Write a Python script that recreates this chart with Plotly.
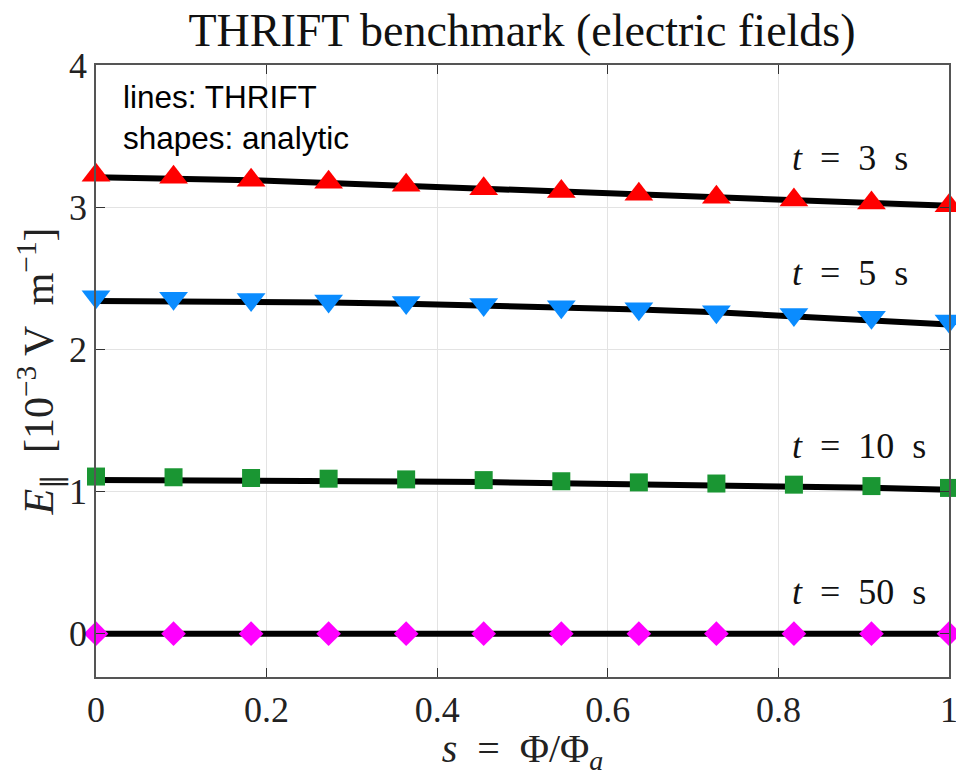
import plotly.graph_objects as go

# Normalised flux coordinate s = Phi/Phi_a (12 radial points)
s = [0.0, 0.0909, 0.1818, 0.2727, 0.3636, 0.4545, 0.5455, 0.6364, 0.7273, 0.8182, 0.9091, 1.0]

# THRIFT solution, E_parallel [1e-3 V/m]
thrift_t3 = [3.21, 3.205, 3.19, 3.17, 3.15, 3.13, 3.11, 3.09, 3.07, 3.05, 3.03, 3.01]
thrift_t5 = [2.34, 2.34, 2.335, 2.33, 2.32, 2.31, 2.295, 2.28, 2.26, 2.235, 2.205, 2.175]
thrift_t10 = [1.08, 1.08, 1.077, 1.074, 1.07, 1.066, 1.06, 1.054, 1.047, 1.038, 1.026, 1.012]
thrift_t50 = [0.0] * 12

# Analytic solution at the same points
analytic_t3 = [3.225, 3.21, 3.19, 3.175, 3.155, 3.13, 3.11, 3.09, 3.07, 3.05, 3.03, 3.01]
analytic_t5 = [2.37, 2.36, 2.35, 2.34, 2.33, 2.315, 2.30, 2.285, 2.265, 2.245, 2.225, 2.2]
analytic_t10 = [1.105, 1.10, 1.095, 1.09, 1.085, 1.08, 1.072, 1.064, 1.056, 1.048, 1.038, 1.025]
analytic_t50 = [0.0] * 12

time_labels = ["<i>t</i>&nbsp; = &nbsp;3&nbsp; s", "<i>t</i>&nbsp; = &nbsp;5&nbsp; s",
               "<i>t</i>&nbsp; = &nbsp;10&nbsp; s", "<i>t</i>&nbsp; = &nbsp;50&nbsp; s"]
label_x = [0.814, 0.814, 0.814, 0.814]
label_y = [3.345, 2.54, 1.32, 0.29]

x_ticks = [0, 0.2, 0.4, 0.6, 0.8, 1]
x_tick_text = ["0", "0.2", "0.4", "0.6", "0.8", "1"]
y_ticks = [0, 1, 2, 3, 4]
y_tick_text = ["0", "1", "2", "3", "4"]

serif = "Liberation Serif"

fig = go.Figure()

for ys in [thrift_t3, thrift_t5, thrift_t10, thrift_t50]:
    fig.add_trace(go.Scatter(x=s, y=ys, mode="lines",
                             line=dict(color="black", width=6),
                             showlegend=False, hoverinfo="skip"))

markers = [
    (analytic_t3, "triangle-up", "#FF0000", 25),
    (analytic_t5, "triangle-down", "#0A8CFF", 25),
    (analytic_t10, "square", "#1A9633", 18),
    (analytic_t50, "diamond", "#FF00FF", 19),
]
for ys, sym, col, size in markers:
    fig.add_trace(go.Scatter(x=s, y=ys, mode="markers",
                             marker=dict(symbol=sym, color=col, size=size,
                                         line=dict(width=0)),
                             cliponaxis=False, showlegend=False))

for txt, lx, ly in zip(time_labels, label_x, label_y):
    fig.add_annotation(x=lx, y=ly, text=txt, showarrow=False,
                       xanchor="left", yanchor="middle",
                       font=dict(family=serif, size=36, color="#111"))

fig.add_annotation(x=0.029, y=0.914, xref="x", yref="paper",
                   text="lines: THRIFT<br>shapes: analytic", showarrow=False,
                   xanchor="left", yanchor="middle", align="left",
                   font=dict(family="Liberation Sans", size=31.5, color="black"))

axis_common = dict(
    showline=True, linecolor="#555", linewidth=1.5, mirror="ticks",
    ticks="inside", ticklen=9, tickcolor="#333", tickwidth=1.2,
    showgrid=True, gridcolor="#E3E3E3", gridwidth=1, zeroline=False,
    automargin=False, ticklabeloverflow="allow",
    tickfont=dict(family=serif, size=36, color="#222"),
)

fig.update_xaxes(range=[0, 1], tickvals=x_ticks, ticktext=x_tick_text,
                 title=dict(text="<i>s</i>  =  Φ/Φ<sub><i>a</i></sub>",
                            font=dict(family=serif, size=40, color="#222"),
                            standoff=4),
                 **axis_common)
fig.update_yaxes(range=[-0.305, 4], tickvals=y_ticks, ticktext=y_tick_text,
                 title=dict(text="<i>E</i><sub>∥</sub>  [10<sup>−3</sup> V  m<sup>−1</sup>]",
                            font=dict(family=serif, size=42, color="#222"),
                            standoff=0),
                 **axis_common)

fig.update_layout(
    width=956, height=776,
    margin=dict(l=96, r=7, t=65, b=99),
    plot_bgcolor="white", paper_bgcolor="white",
    title=dict(text="THRIFT benchmark (electric fields)", x=0.546, xanchor="center",
               y=0.962, yanchor="middle",
               font=dict(family=serif, size=46, color="#111")),
)

fig.write_html("out.html")
